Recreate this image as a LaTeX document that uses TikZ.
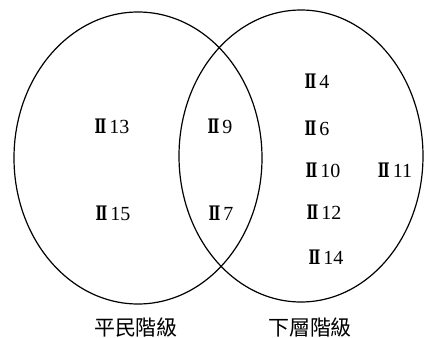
\documentclass[tikz,border=0pt]{standalone}
\usepackage{fontspec}
\setmainfont{Liberation Serif}
\newfontfamily\cjk{Noto Sans CJK TC}
\newfontfamily\romfont{DejaVu Serif}
\newcommand{\rII}{\scalebox{0.7}[1]{\romfont\bfseries\fontsize{20}{20}\selectfont Ⅱ}\kern3pt}
\begin{document}
\begin{tikzpicture}[x=1pt,y=-1pt,
  lab/.style={font=\fontsize{20}{20}\selectfont, inner sep=0pt},
  cat/.style={font=\cjk\fontsize{21}{21}\selectfont, inner sep=0pt},
  venn/.style={draw=black, line width=1.2pt}]
\useasboundingbox (0,0) rectangle (424,338);
\draw[venn] (138,158) ellipse [x radius=124pt, y radius=146pt];
\draw[venn] (301,156) ellipse [x radius=122pt, y radius=146pt];
\node[lab] (n13) at (112,126) {\rII13};
\node[lab] (n15) at (113,213) {\rII15};
\node[lab] (n9) at (220,126) {\rII9};
\node[lab] (n7) at (221,213) {\rII7};
\node[lab] (n4) at (317,81) {\rII4};
\node[lab] (n6) at (317,128) {\rII6};
\node[lab] (n10) at (323,170) {\rII10};
\node[lab] (n12) at (324,212) {\rII12};
\node[lab] (n14) at (326,257) {\rII14};
\node[lab] (n11) at (395,170) {\rII11};
\node[cat] (c1) at (136,328) {平民階級};
\node[cat] (c2) at (310,328) {下層階級};
\end{tikzpicture}
\end{document}
